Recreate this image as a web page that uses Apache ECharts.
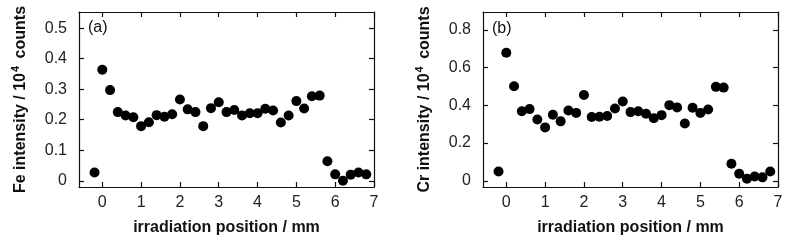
<!DOCTYPE html>
<html>
<head>
<meta charset="utf-8">
<title>Fe / Cr intensity</title>
<script src="https://cdn.jsdelivr.net/npm/echarts@6/dist/echarts.min.js"></script>
<style>
  html, body { margin: 0; padding: 0; background: #fff; }
  #chart { width: 788px; height: 241px; }
</style>
</head>
<body>
<div id="chart"></div>
<script>
// irradiation position (mm)
const positions = [-0.2, 0, 0.2, 0.4, 0.6, 0.8, 1.0, 1.2, 1.4, 1.6, 1.8, 2.0, 2.2, 2.4, 2.6, 2.8, 3.0, 3.2,
  3.4, 3.6, 3.8, 4.0, 4.2, 4.4, 4.6, 4.8, 5.0, 5.2, 5.4, 5.6, 5.8, 6.0, 6.2, 6.4, 6.6, 6.8]

// (a) Fe intensity / 10^4 counts
const feValues = [0.027, 0.364, 0.297, 0.225, 0.214, 0.208, 0.179, 0.192, 0.215, 0.210, 0.218, 0.266,
  0.234, 0.225, 0.179, 0.238, 0.257, 0.225, 0.232, 0.214, 0.221, 0.221, 0.236, 0.230, 0.191, 0.214,
  0.261, 0.237, 0.277, 0.279, 0.064, 0.021, 0.000, 0.020, 0.027, 0.021]

// (b) Cr intensity / 10^4 counts
const crValues = [0.049, 0.679, 0.501, 0.369, 0.380, 0.325, 0.283, 0.350, 0.315, 0.373, 0.360, 0.455,
  0.338, 0.339, 0.343, 0.383, 0.420, 0.364, 0.369, 0.355, 0.332, 0.348, 0.401, 0.389, 0.304, 0.387,
  0.359, 0.378, 0.498, 0.494, 0.090, 0.037, 0.011, 0.023, 0.018, 0.049]

// tick labels
const xTicks = [0, 1, 2, 3, 4, 5, 6, 7]
const feTicks = [0, 0.1, 0.2, 0.3, 0.4, 0.5]
const crTicks = [0, 0.2, 0.4, 0.6, 0.8]

const chart = echarts.init(document.getElementById('chart'), null, { renderer: 'canvas' })

const font = 'Liberation Sans, Arial, sans-serif'
const lineStyle = { color: '#111', width: 1.2 }

function xAxes(gridIndex) {
  const base = {
    type: 'value',
    gridIndex,
    min: -0.6,
    max: 7,
    splitLine: { show: false },
    axisLine: { show: true, onZero: false, lineStyle },
    axisTick: { show: true, inside: true, length: 5, customValues: xTicks, lineStyle },
  }
  return [{
    ...base,
    position: 'bottom',
    name: 'irradiation position / mm',
    nameLocation: 'middle',
    nameGap: 33,
    nameTextStyle: { fontFamily: font, fontSize: 16, fontWeight: 'bold', color: '#111' },
    axisLabel: { customValues: xTicks, fontFamily: font, fontSize: 16, color: '#222', margin: 8 },
  }, {
    ...base,
    position: 'top',
    axisLabel: { show: false },
  }]
}

function yAxes(gridIndex, max, ticks, element) {
  const base = {
    type: 'value',
    gridIndex,
    min: -max * 0.037,
    max,
    splitLine: { show: false },
    axisLine: { show: true, onZero: false, lineStyle },
    axisTick: { show: true, inside: true, length: 5, customValues: ticks, lineStyle },
  }
  return [{
    ...base,
    position: 'left',
    name: `${element} intensity / 10{sup|4} counts`,
    nameLocation: 'middle',
    nameGap: 47,
    nameTextStyle: {
      fontFamily: font,
      fontSize: 16,
      fontWeight: 'bold',
      color: '#111',
      lineHeight: 22,
      rich: {
        sup: { fontFamily: font, fontSize: 11, fontWeight: 'bold', color: '#111', verticalAlign: 'top', lineHeight: 22, padding: [0, 3, 0, 1] },
      },
    },
    axisLabel: { customValues: ticks, fontFamily: font, fontSize: 16, color: '#222', margin: 12 },
  }, {
    ...base,
    position: 'right',
    axisLabel: { show: false },
  }]
}

function scatter(index, values) {
  return {
    type: 'scatter',
    xAxisIndex: index * 2,
    yAxisIndex: index * 2,
    symbol: 'circle',
    symbolSize: 10,
    itemStyle: { color: '#000', opacity: 1 },
    data: positions.map((x, i) => [x, values[i]]),
  }
}

const option = {
  animation: false,
  grid: [
    { left: 79, right: 414, top: 12, bottom: 54 },
    { left: 483, right: 10, top: 12, bottom: 54 },
  ],
  xAxis: [...xAxes(0), ...xAxes(1)],
  yAxis: [...yAxes(0, 0.553, feTicks, 'Fe'), ...yAxes(1, 0.895, crTicks, 'Cr')],
  series: [scatter(0, feValues), scatter(1, crValues)],
  graphic: [
    { type: 'text', left: 88, top: 20, style: { text: '(a)', font: `16px ${font}`, fill: '#111' } },
    { type: 'text', left: 492, top: 21, style: { text: '(b)', font: `16px ${font}`, fill: '#111' } },
  ],
}

chart.setOption(option)
</script>
</body>
</html>
